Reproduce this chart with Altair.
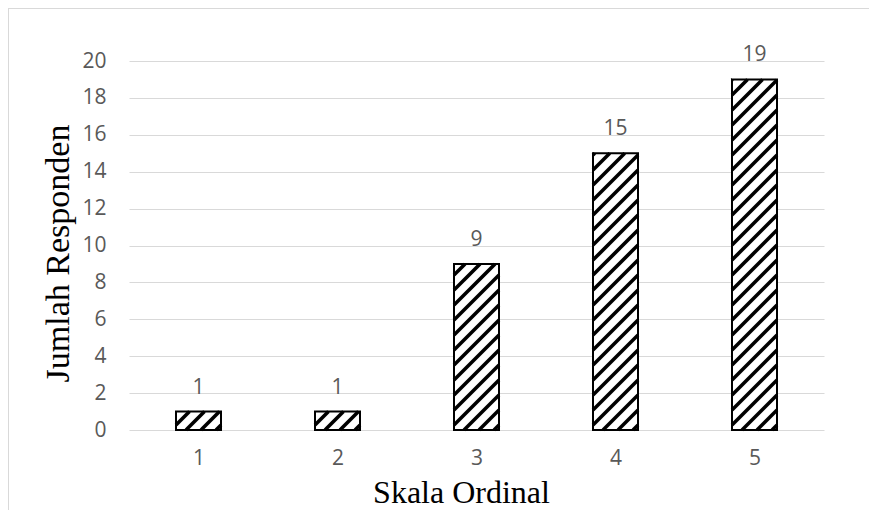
import altair as alt
import pandas as pd

# ---- data ----
categories = [1, 2, 3, 4, 5]
values = [1, 1, 9, 15, 19]
y_ticks = [0, 2, 4, 6, 8, 10, 12, 14, 16, 18, 20]
x_title = "Skala Ordinal"
y_title = "Jumlah Responden"

# ---- layout / style ----
W, H = 695, 369
PAD = {"left": 121, "top": 53, "right": 45, "bottom": 80}
XPX = W / 5.0          # pixels per x unit (domain 0.5..5.5)
YPX = H / 20.0         # pixels per y unit (domain 0..20)
BAR_PX = 45.0
HALF = BAR_PX / 2 / XPX
PERIOD = 15.0          # hatch period (px, horizontal)
LABEL_FONT = "Open Sans"
LABEL_SIZE = 21
TITLE_FONT = "Liberation Serif"
GRAY = "#595959"
GRID = "#d9d9d9"

bars = pd.DataFrame({"skala": categories, "jumlah": values})
bars["x0"] = bars["skala"] - HALF
bars["x1"] = bars["skala"] + HALF
bars["base"] = 0
bars["label"] = bars["jumlah"].astype(str)

# hatch segments (45 deg, lower-left to upper-right), clipped to each bar
segs = []
for c, v in zip(categories, values):
    w = BAR_PX
    h = v * YPX
    k = -w + 5.0
    while k < h:
        u0 = max(0.0, -k)
        u1 = min(w, h - k)
        if u1 - u0 > 0.5:
            segs.append({
                "hx": c - HALF + u0 / XPX, "hy": (u0 + k) / YPX,
                "hx2": c - HALF + u1 / XPX, "hy2": (u1 + k) / YPX,
            })
        k += PERIOD
hatch = pd.DataFrame(segs)

xscale = alt.Scale(domain=[0.5, 5.5], nice=False, zero=False)
yscale = alt.Scale(domain=[0, 20], nice=False)

x_axis = alt.Axis(
    values=categories, format="d", grid=False, ticks=False, domain=False,
    labelFont=LABEL_FONT, labelFontSize=LABEL_SIZE, labelColor=GRAY, labelPadding=17,
    labelOverlap=False,
    title=x_title, titleFont=TITLE_FONT, titleFontSize=32, titleFontWeight="normal",
    titleColor="#000000", titleX=332, titleY=72, titleAlign="center",
    titleBaseline="alphabetic",
)
y_axis = alt.Axis(
    values=y_ticks, grid=True, gridColor=GRID, gridWidth=1, ticks=False, domain=False,
    labelFont=LABEL_FONT, labelFontSize=LABEL_SIZE, labelColor=GRAY, labelPadding=23,
    labelOverlap=False,
    title=y_title, titleFont=TITLE_FONT, titleFontSize=34, titleFontWeight="normal",
    titleColor="#000000", titleAngle=270, titleX=-61, titleY=192,
    titleAlign="center", titleBaseline="alphabetic",
)

fill_layer = alt.Chart(bars).mark_rect(fill="white", strokeWidth=0).encode(
    x=alt.X("x0:Q", scale=xscale, axis=x_axis),
    x2="x1:Q",
    y=alt.Y("jumlah:Q", scale=yscale, axis=y_axis),
    y2="base:Q",
)

hatch_layer = alt.Chart(hatch).mark_rule(
    color="black", strokeWidth=3.6, strokeCap="butt"
).encode(
    x=alt.X("hx:Q", scale=xscale, axis=x_axis),
    y=alt.Y("hy:Q", scale=yscale, axis=y_axis),
    x2="hx2:Q",
    y2="hy2:Q",
)

outline_layer = alt.Chart(bars).mark_rect(
    fillOpacity=0, stroke="black", strokeWidth=2
).encode(
    x=alt.X("x0:Q", scale=xscale, axis=x_axis),
    x2="x1:Q",
    y=alt.Y("jumlah:Q", scale=yscale, axis=y_axis),
    y2="base:Q",
)

label_layer = alt.Chart(bars).mark_text(
    font=LABEL_FONT, fontSize=LABEL_SIZE, color=GRAY, baseline="alphabetic", dy=-18
).encode(
    x=alt.X("skala:Q", scale=xscale, axis=x_axis),
    y=alt.Y("jumlah:Q", scale=yscale, axis=y_axis),
    text="label:N",
)

one = pd.DataFrame({"a": [0]})
border_left = alt.Chart(one).mark_rule(color=GRID, strokeWidth=1).encode(
    x=alt.value(-120.5), y=alt.value(-53), y2=alt.value(H + PAD["bottom"])
)
border_top = alt.Chart(one).mark_rule(color=GRID, strokeWidth=1).encode(
    x=alt.value(-121), x2=alt.value(W + PAD["right"]), y=alt.value(-52.5)
)

chart = alt.layer(
    border_left, border_top, fill_layer, hatch_layer, outline_layer, label_layer
).properties(
    width=W, height=H,
    autosize=alt.AutoSizeParams(type="none"),
    padding=PAD,
).configure_view(stroke=None)

chart.save("out.html", embed_options={"renderer": "svg", "actions": False})
